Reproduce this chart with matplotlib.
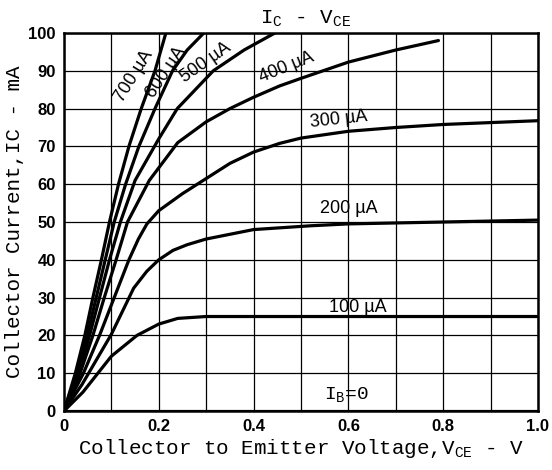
import matplotlib
matplotlib.use('Agg')
import matplotlib.pyplot as plt
from matplotlib.ticker import MultipleLocator

plt.rcParams['mathtext.default'] = 'regular'

# Ic - Vce characteristics (V, mA)
v_100 = [0, 0.04, 0.1, 0.154, 0.2, 0.24, 0.3, 0.5, 0.8, 1.0]
i_100 = [0, 5, 14.5, 20, 23, 24.5, 25, 25, 25, 25]

v_200 = [0, 0.038, 0.1, 0.147, 0.175, 0.2, 0.23, 0.26, 0.3, 0.4, 0.52, 0.6, 0.8, 1.0]
i_200 = [0, 7, 20.3, 32.5, 37, 40, 42.5, 44, 45.5, 48, 49, 49.5, 50, 50.5]

v_300 = [0, 0.041, 0.075, 0.106, 0.137, 0.157, 0.175, 0.2, 0.25, 0.3, 0.35, 0.4, 0.455, 0.5,
         0.6, 0.7, 0.8, 1.0]
i_300 = [0, 10, 20, 30, 40, 45.5, 49.5, 53, 57.5, 61.5, 65.5, 68.5, 70.8, 72.2,
         74, 75, 75.8, 76.8]

v_400 = [0, 0.034, 0.061, 0.085, 0.11, 0.134, 0.18, 0.24, 0.3, 0.35, 0.4, 0.455, 0.5, 0.6, 0.7, 0.79]
i_400 = [0, 10, 20, 30, 40, 50, 61, 71, 76.5, 80, 83, 86, 88, 92.3, 95.5, 98]

v_500 = [0, 0.031, 0.054, 0.075, 0.096, 0.119, 0.15, 0.2, 0.239, 0.315, 0.38, 0.445]
i_500 = [0, 10, 20, 30, 40, 50, 61, 72, 80, 90, 95.5, 100]

v_600 = [0, 0.027, 0.049, 0.068, 0.087, 0.106, 0.13, 0.158, 0.192, 0.229, 0.26, 0.295]
i_600 = [0, 10, 20, 30, 40, 50, 60, 70, 80, 90, 95.5, 100]

v_700 = [0, 0.024, 0.044, 0.061, 0.079, 0.096, 0.115, 0.137, 0.163, 0.192, 0.215]
i_700 = [0, 10, 20, 30, 40, 50, 60, 70, 80, 90, 100]

v_0 = [0, 1.0]
i_0 = [0, 0]

x_ticks = [0, 0.2, 0.4, 0.6, 0.8, 1.0]
x_labels = ['0', '0.2', '0.4', '0.6', '0.8', '1.0']

curves = [(v_0, i_0), (v_100, i_100), (v_200, i_200), (v_300, i_300),
          (v_400, i_400), (v_500, i_500), (v_600, i_600), (v_700, i_700)]

fig = plt.figure(figsize=(5.52, 4.70), dpi=100)
ax = fig.add_axes([0.1159, 0.1255, 0.8587, 0.8043])

for v, i in curves:
    ax.plot(v, i, color='black', lw=2.3, solid_capstyle='round', solid_joinstyle='round')

ax.set_xlim(0, 1.0)
ax.set_ylim(0, 100)
ax.set_xticks(x_ticks, x_labels)
ax.xaxis.set_minor_locator(MultipleLocator(0.1))
ax.yaxis.set_major_locator(MultipleLocator(10))
ax.grid(True, which='both', color='black', lw=0.9)
ax.tick_params(which='both', length=0, pad=6)
for lab in ax.get_xticklabels() + ax.get_yticklabels():
    lab.set_fontfamily('Liberation Sans')
    lab.set_fontweight('bold')
    lab.set_fontsize(12)
for s in ax.spines.values():
    s.set_linewidth(1.8)

mono = 'Liberation Mono'
ax.set_xlabel('Collector to Emitter Voltage,V$_{CE}$ - V', family=mono, fontsize=15, labelpad=2)
ax.set_ylabel('Collector Current,IC - mA', family=mono, fontsize=15, labelpad=3)
ax.text(0.51, 101, 'I$_C$ - V$_{CE}$', family=mono, fontsize=15, ha='center', va='bottom')

lab_kw = dict(family='Liberation Sans', fontsize=13, ha='center', va='center')
ax.text(0.148, 88.5, '700 µA', rotation=58, **lab_kw)
ax.text(0.215, 89.5, '600 µA', rotation=56, **lab_kw)
ax.text(0.3, 92.3, '500 µA', rotation=35, **lab_kw)
ax.text(0.47, 90.8, '400 µA', rotation=22, **lab_kw)
ax.text(0.58, 77, '300 µA', rotation=6, **lab_kw)
ax.text(0.6, 53.5, '200 µA', **lab_kw)
ax.text(0.62, 27.5, '100 µA', **lab_kw)
ax.text(0.595, 4.5, 'I$_B$=0', family=mono, fontsize=14, ha='center', va='center')

fig.savefig('out.png', dpi=100)
